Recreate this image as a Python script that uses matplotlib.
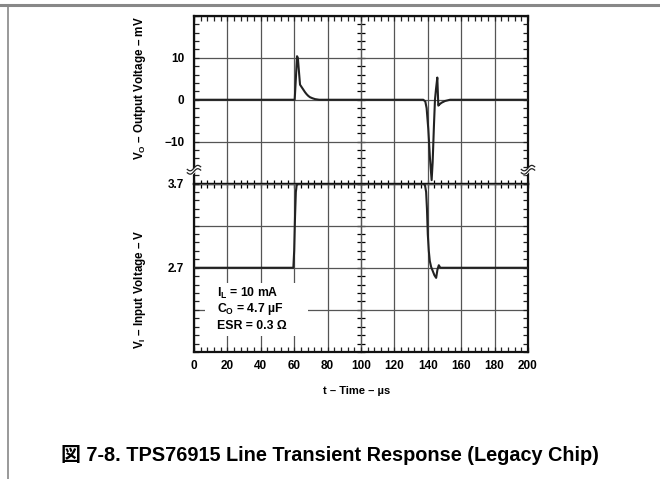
import numpy as np
import matplotlib.pyplot as plt
from matplotlib.ticker import MultipleLocator
from matplotlib.lines import Line2D
from matplotlib.patches import Rectangle

plt.rcParams['font.family'] = ['Liberation Sans', 'Noto Sans CJK JP']
plt.rcParams['font.weight'] = 'bold'
plt.rcParams['mathtext.fontset'] = 'custom'
plt.rcParams['mathtext.rm'] = 'Liberation Sans:bold'

# output voltage trace (mV)
t_out = [0, 60.3, 61.0, 61.7, 62.2, 62.8, 63.5, 64.5, 65.5, 66.5, 67.5, 68.5, 69.5, 71, 72.5, 75, 100,
         137.3, 138.5, 139.3, 140.3, 141.3, 142.3, 142.9, 143.7, 144.3, 144.9, 145.7, 146.3, 147.3,
         148.3, 150.3, 153.3, 200]
v_out = [0, 0, 5, 10.4, 10.0, 7.0, 3.6, 3.0, 2.4, 1.8, 1.3, 0.9, 0.6, 0.35, 0.15, 0, 0,
         0, -0.4, -2, -7, -14, -19.2, -15, -6, 0, 2.5, 5.3, -1.4, -1.0,
         -0.7, -0.3, 0, 0]

# input voltage trace (V)
t_in = [0, 59.5, 60.0, 60.5, 61.0, 61.5, 62.5, 100, 137.3, 138.3, 139.0, 139.5, 140.0, 140.6,
        141.2, 142.0, 143.0, 144.0, 145.0, 145.8, 146.6, 147.5, 200]
v_in = [2.7, 2.7, 2.9, 3.3, 3.6, 3.68, 3.7, 3.7, 3.7, 3.68, 3.6, 3.4, 3.1, 2.9,
        2.78, 2.71, 2.66, 2.61, 2.58, 2.68, 2.73, 2.7, 2.7]

x_ticks = [0, 20, 40, 60, 80, 100, 120, 140, 160, 180, 200]
top_ticks = [-20, -10, 0, 10, 20]
top_labels = ['', '\u221210', '0', '10', '']
bot_ticks = [1.7, 2.2, 2.7, 3.2, 3.7]
bot_labels = ['', '', '2.7', '', '3.7']
conditions = ['I$_\\mathregular{L}$ = 10 mA', 'C$_\\mathregular{O}$ = 4.7 \u00b5F', 'ESR = 0.3 \u03a9']

fig = plt.figure(figsize=(6.6, 4.79), dpi=100)
ax_top = fig.add_axes([0.2939, 0.6169, 0.5061, 0.3497])
ax_bot = fig.add_axes([0.2939, 0.2651, 0.5061, 0.3518])

grid_col = '#555555'
trace_col = '#222222'

for ax in (ax_top, ax_bot):
    ax.patch.set_visible(False)
    ax.set_xlim(0, 200)
    ax.set_xticks(x_ticks)
    ax.xaxis.set_minor_locator(MultipleLocator(4))
    ax.grid(which='major', color=grid_col, linewidth=0.9)
    for sp in ax.spines.values():
        sp.set_linewidth(1.6)
        sp.set_color('#111111')
    ax.tick_params(which='both', direction='in', length=3.5, width=0.9, color='#222222',
                   left=True, right=True, labelsize=8.5, pad=7)

ax_top.set_ylim(-20, 20)
ax_top.set_yticks(top_ticks, top_labels)
ax_top.yaxis.set_minor_locator(MultipleLocator(2))
ax_top.tick_params(axis='x', which='both', top=True, bottom=False, labelbottom=False)
ax_top.plot(t_out, v_out, color=trace_col, linewidth=1.5, zorder=5)

ax_bot.set_ylim(1.7, 3.7)
ax_bot.set_yticks(bot_ticks, bot_labels)
ax_bot.yaxis.set_minor_locator(MultipleLocator(0.1))
ax_bot.tick_params(axis='x', which='both', top=False, bottom=True, pad=6)
ax_bot.spines['top'].set_visible(False)
ax_bot.plot(t_in, v_in, color=trace_col, linewidth=1.5, zorder=5)

# centre cross-hair with ticks
mid = ax_top.secondary_xaxis(0.0)
mid.set_xticks(x_ticks)
mid.xaxis.set_minor_locator(MultipleLocator(4))
mid.tick_params(which='both', direction='inout', length=6, width=0.9, labelbottom=False, labeltop=False)
mid.spines['bottom'].set_linewidth(1.6)
for ax, minor in ((ax_top, 2), (ax_bot, 0.1)):
    sec = ax.secondary_yaxis(0.5)
    sec.yaxis.set_minor_locator(MultipleLocator(minor))
    sec.tick_params(which='both', direction='inout', length=6, width=0.9,
                    labelleft=False, labelright=False)
    for sp in sec.spines.values():
        sp.set_linewidth(0.9)
        sp.set_color(grid_col)

# condition box
ax_bot.add_patch(Rectangle((6.6, 1.885), 61.4, 0.635, facecolor='white', edgecolor='none', zorder=3))
for i, s in enumerate(conditions):
    ax_bot.text(14, 2.4 - 0.195 * i, s, fontsize=8.8, fontweight='bold', va='center', ha='left', zorder=6)

# axis break marks
xx = np.linspace(-0.02, 0.02, 30)
for xc in (0.0, 1.0):
    y1 = 0.072 + 0.012 * np.sin(np.pi * xx / 0.02) + 0.4 * xx
    y2 = y1 + 0.02
    ax_top.fill_between(xc + xx, y1, y2, color='white', transform=ax_top.transAxes, clip_on=False, zorder=7)
    ax_top.plot(xc + xx, y1, color='#222222', lw=0.9, transform=ax_top.transAxes, clip_on=False, zorder=8)
    ax_top.plot(xc + xx, y2, color='#222222', lw=0.9, transform=ax_top.transAxes, clip_on=False, zorder=8)

fig.text(140 / 660, 1 - 88 / 479, 'V$_\\mathregular{O}$ \u2013 Output Voltage \u2013 mV', rotation=90,
         ha='center', va='center', fontsize=8.4, fontweight='bold')
fig.text(140 / 660, 1 - 289 / 479, 'V$_\\mathregular{I}$ \u2013 Input Voltage \u2013 V', rotation=90,
         ha='center', va='center', fontsize=8.4, fontweight='bold')
fig.text(357 / 660, 1 - 391 / 479, 't \u2013 Time \u2013 \u00b5s', ha='center', va='center',
         fontsize=8, fontweight='bold')
fig.text(330 / 660, 1 - 455 / 479, '図 7-8. TPS76915 Line Transient Response (Legacy Chip)',
         ha='center', va='center', fontsize=14.3, fontweight='bold')

# page frame
fig.add_artist(Line2D([0, 1], [1 - 5 / 479] * 2, color='#888888', lw=2.2))
fig.add_artist(Line2D([7.5 / 660] * 2, [0, 1 - 5 / 479], color='#888888', lw=1.2))

fig.savefig('out.png', dpi=100)
